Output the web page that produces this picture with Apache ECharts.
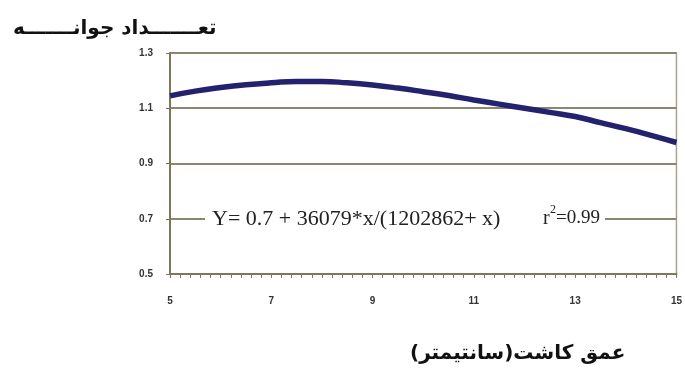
<!DOCTYPE html>
<html><head><meta charset="utf-8">
<script src="https://cdn.jsdelivr.net/npm/echarts@6/dist/echarts.min.js"></script>
<style>html,body{margin:0;padding:0;background:#fff}#c{width:685px;height:370px}</style>
</head><body><div id="c"></div>
<script>
const xValues = [5,5.5,6,6.5,7,7.5,8,8.5,9,9.5,10,10.5,11,11.5,12,12.5,13,13.5,14,14.5,15];
const yValues = [1.145,1.162,1.175,1.185,1.192,1.197,1.197,1.192,1.184,1.173,1.16,1.146,1.13,1.115,1.1,1.085,1.07,1.048,1.026,1.002,0.976];
const yTitle = 'تعـــــــداد جوانـــــــه';
const xTitle = 'عمق كاشت(سانتيمتر)';
const equation = 'Y= 0.7 + 36079*x/(1202862+ x)';
const r2Text = '=0.99';

const chart = echarts.init(document.getElementById('c'));
const axisColor = '#7d775c';
chart.setOption({
  backgroundColor: '#fff',
  animation: false,
  grid: {left: 170, right: 3, top: 53, bottom: 96, show: true, borderColor: '#a8a490', borderWidth: 1.5},
  xAxis: {
    type: 'value', min: 5, max: 15, interval: 2,
    axisLine: {lineStyle: {color: axisColor, width: 2}},
    axisTick: {show: true, length: 4, lineStyle: {color: axisColor, width: 1}},
    minorTick: {show: true, splitNumber: 10, length: 4, lineStyle: {color: axisColor}},
    splitLine: {show: false},
    axisLabel: {color: '#333', fontSize: 10, fontWeight: 'bold', fontFamily: 'Arial, Liberation Sans', margin: 22}
  },
  yAxis: {
    type: 'value', min: 0.5, max: 1.3, interval: 0.2,
    axisLine: {show: true, lineStyle: {color: axisColor, width: 2}},
    axisTick: {show: true, length: 4, lineStyle: {color: axisColor}},
    splitLine: {show: true, lineStyle: {color: '#8a8670', width: 2}},
    axisLabel: {color: '#333', fontSize: 10, fontWeight: 'bold', fontFamily: 'Arial, Liberation Sans', margin: 17,
      formatter: v => v.toFixed(1)}
  },
  series: [{
    type: 'line', smooth: true, symbol: 'none',
    data: xValues.map((x, i) => [x, yValues[i]]),
    lineStyle: {color: '#22226e', width: 5.5}
  }],
  graphic: [
    {type: 'text', left: 13, top: 19, z: 20, style: {text: yTitle, font: 'bold 20px "DejaVu Sans"', fill: '#111'}},
    {type: 'text', left: 410, top: 344, z: 20, style: {text: xTitle, font: 'bold 20px "DejaVu Sans"', fill: '#111'}},
    {type: 'rect', left: 205, top: 209, z: 20, shape: {width: 400, height: 21}, style: {fill: '#fff'}},
    {type: 'text', left: 212, top: 208, z: 21, style: {text: equation, font: '22px "Liberation Serif", "Times New Roman", serif', fill: '#222'}},
    {type: 'text', left: 543, top: 209, z: 21, style: {text: 'r', font: '20px "Liberation Serif", serif', fill: '#222'}},
    {type: 'text', left: 550, top: 204, z: 21, style: {text: '2', font: '12px "Liberation Serif", serif', fill: '#222'}},
    {type: 'text', left: 556, top: 209, z: 21, style: {text: r2Text, font: '19px "Liberation Serif", serif', fill: '#222'}}
  ]
});
</script></body></html>
